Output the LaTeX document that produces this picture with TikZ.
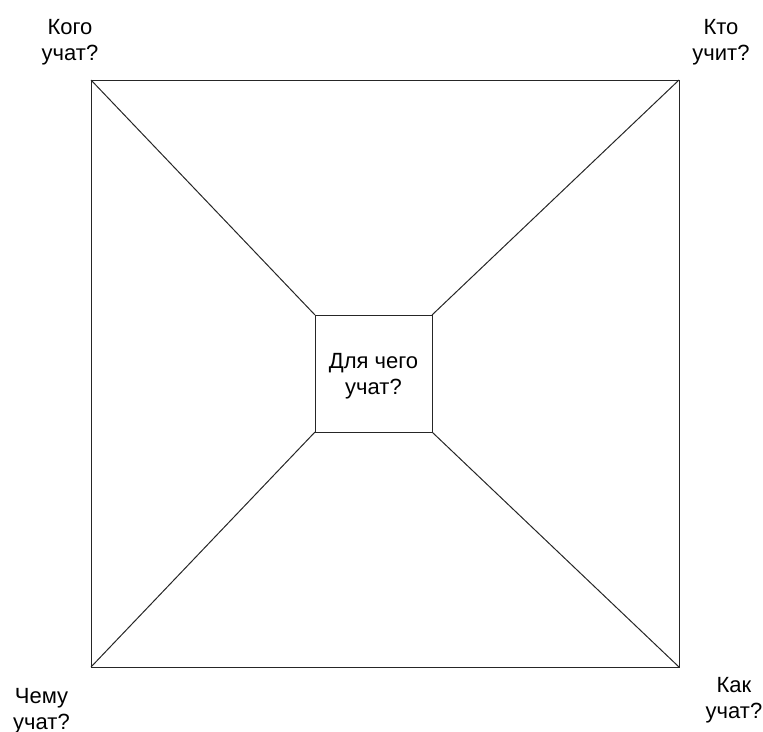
\documentclass[tikz,border=0pt]{standalone}
\usepackage{fontspec}
\setmainfont{Liberation Sans}
\begin{document}
\begin{tikzpicture}[x=1pt,y=-1pt,
  box/.style={draw=black!85, line width=1pt, inner sep=0pt, outer sep=0pt},
  lbl/.style={align=center, inner sep=0pt, font=\fontsize{22}{26}\selectfont},
  conn/.style={draw=black!85, line width=1pt}]
\useasboundingbox (0,0) rectangle (763,731);
\node[box, minimum width=588pt, minimum height=587pt] (outer) at (385,373.5) {};
\node[box, minimum width=117pt, minimum height=117pt] (inner) at (373.5,373.5) {};
\node[lbl] (innertext) at (373.5,376.5) {Для чего\\учат?};
\draw[conn] (outer.north west) -- (inner.north west);
\draw[conn] (outer.north east) -- (inner.north east);
\draw[conn] (outer.south west) -- (inner.south west);
\draw[conn] (outer.south east) -- (inner.south east);
\node[lbl] (kogo) at (70,42) {Кого\\учат?};
\node[lbl] (kto) at (721,42.5) {Кто\\учит?};
\node[lbl] (chemu) at (41.5,711) {Чему\\учат?};
\node[lbl] (kak) at (734,700.5) {Как\\учат?};
\end{tikzpicture}
\end{document}
